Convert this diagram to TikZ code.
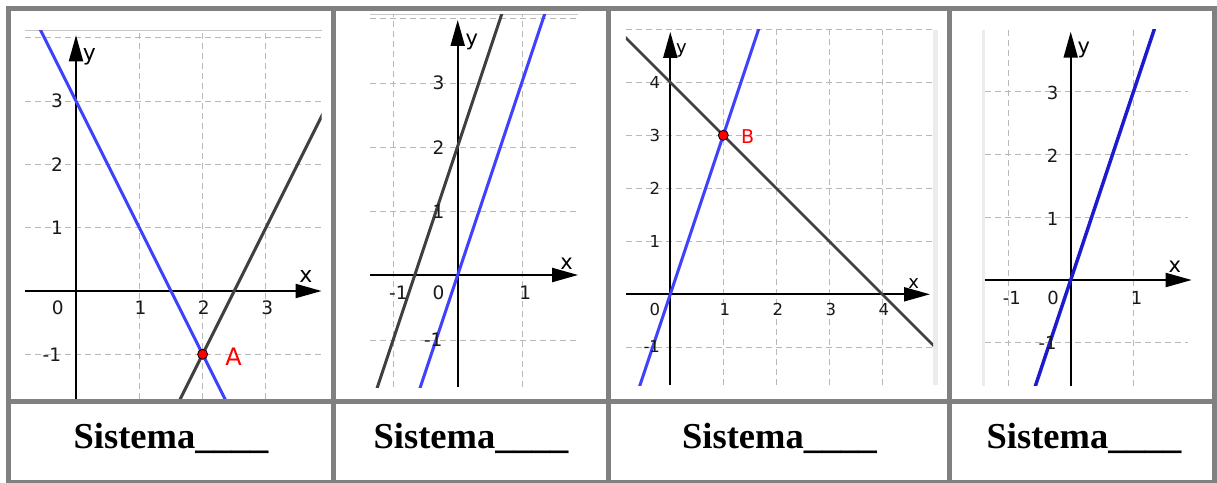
\documentclass[tikz,border=0pt]{standalone}
\usepackage{fontspec}
\setmainfont{Liberation Serif}
\setsansfont{DejaVu Sans}
\usepackage{tikz}
\usetikzlibrary{arrows.meta}

\definecolor{bordegris}{gray}{0.5}
\definecolor{rejillagris}{gray}{0.72}
\definecolor{rectaazul}{RGB}{64,64,255}
\definecolor{rectaazuloscuro}{RGB}{28,28,204}
\definecolor{rectagris}{RGB}{64,64,64}

\begin{document}
\begin{tikzpicture}[x=1pt,y=1pt,
    borde/.style={draw=bordegris,line width=5pt},
    rejilla/.style={rejillagris,line width=1pt,dash pattern=on 6pt off 4pt},
    eje/.style={line width=2pt,-{Triangle[length=26pt,width=14pt]}},
    recta/.style={line width=3pt},
    marca/.style={font=\fontsize{#1}{#1}\sffamily,text=black!90,inner sep=0pt},
    rotulo/.style={font=\fontsize{#1}{#1}\sffamily,inner sep=0pt},
    punto/.style={circle,fill=red,draw=black,line width=0.8pt,inner sep=0pt,minimum size=10pt},
    sistema/.style={font=\fontsize{36.5}{40}\selectfont\bfseries,anchor=base}]
    \useasboundingbox (0,0) rectangle (1217,482);
    \fill[white] (0,0) rectangle (1217,482);

    % Sistema 1: rectas que se cortan en A.
    \begin{scope}[shift={(76pt,191pt)},x=63.3pt,y=63.3pt]
        \draw[gray!45,line width=1.2pt] (-0.8,4.11) -- (3.88,4.11);
        \foreach \x in {1,2,3}{
            \draw[rejilla] (\x,-1.7) -- (\x,4.11);
        }
        \foreach \y in {-1,1,2,3,4}{
            \draw[rejilla] (-0.8,\y) -- (3.88,\y);
        }
        \draw[eje] (0,-1.7) -- (0,4.04);
        \draw[eje] (-0.8,0) -- (3.88,0);
        \begin{scope}
            \clip (-0.8,-1.7) rectangle (3.88,4.11);
            \draw[recta,rectaazul] (-0.6,4.2) -- (2.4,-1.8);
            \draw[recta,rectagris] (1.6,-1.8) -- (4,3);
        \end{scope}
        \node[marca=18.5] (p1x0) at (-0.29,-0.27) {0};
        \foreach \x in {1,2,3}{
            \node[marca=18.5] (p1x\x) at (\x+0.02,-0.27) {\x};
        }
        \foreach \y in {1,2,3}{
            \node[marca=18.5] (p1y\y) at (-0.3,\y) {\y};
        }
        \node[marca=18.5] (p1ym1) at (-0.38,-1) {-1};
        \node[rotulo=22] (p1ejex) at (3.63,0.23) {x};
        \node[rotulo=22] (p1ejey) at (0.21,3.70) {y};
        \node[punto] (A) at (2,-1) {};
        \node[rotulo=24,text=red] (etiqA) at (2.49,-1.04) {A};
    \end{scope}

    % Sistema 2: rectas paralelas.
    \begin{scope}[shift={(457.7pt,207pt)},x=64.4pt,y=64.4pt]
        \draw[gray!45,line width=1.2pt] (-1.36,4.05) -- (1.87,4.05);
        \foreach \x in {-1,1}{
            \draw[rejilla] (\x,-1.74) -- (\x,4.05);
        }
        \foreach \y in {-1,1,2,3,4}{
            \draw[rejilla] (-1.36,\y-0.02) -- (1.87,\y-0.02);
        }
        \draw[eje] (0,-1.74) -- (0,3.96);
        \draw[eje] (-1.36,0) -- (1.87,0);
        \begin{scope}
            \clip (-1.36,-1.74) rectangle (1.87,4.05);
            \draw[recta,rectagris] (-1.3,-1.9) -- (0.75,4.25);
            \draw[recta,rectaazul] (-0.65,-1.95) -- (1.45,4.35);
        \end{scope}
        \node[marca=18.5] (p2xm1) at (-0.92,-0.28) {-1};
        \node[marca=18.5] (p2x0) at (-0.3,-0.28) {0};
        \node[marca=18.5] (p2x1) at (1.05,-0.28) {1};
        \foreach \y in {1,2,3}{
            \node[marca=18.5] (p2y\y) at (-0.3,\y-0.02) {\y};
        }
        \node[marca=18.5] (p2ym1) at (-0.38,-1.01) {-1};
        \node[rotulo=21] (p2ejex) at (1.69,0.18) {x};
        \node[rotulo=21] (p2ejey) at (0.22,3.62) {y};
    \end{scope}

    % Sistema 3: rectas que se cortan en B.
    \begin{scope}[shift={(670.3pt,187.7pt)},x=53pt,y=53pt]
        \fill[gray!15] (4.96,-1.72) rectangle (5.05,4.99);
        \foreach \x in {1,2,3,4}{
            \draw[rejilla] (\x,-1.72) -- (\x,4.99);
        }
        \foreach \y in {-1,1,2,3,4,5}{
            \draw[rejilla] (-0.84,\y) -- (4.96,\y);
        }
        \draw[eje] (0,-1.72) -- (0,4.95);
        \draw[eje] (-0.84,0) -- (4.9,0);
        \begin{scope}
            \clip (-0.84,-1.72) rectangle (4.96,4.99);
            \draw[recta,rectagris,line width=2.5pt] (-0.9,4.9) -- (5,-1);
            \draw[recta,rectaazul] (-0.6,-1.8) -- (1.7,5.1);
        \end{scope}
        \node[marca=16.5] (p3x0) at (-0.29,-0.28) {0};
        \foreach \x in {1,2,3,4}{
            \node[marca=16.5] (p3x\x) at (\x+0.03,-0.28) {\x};
        }
        \foreach \y in {1,2,3,4}{
            \node[marca=16.5] (p3y\y) at (-0.29,\y) {\y};
        }
        \node[marca=16.5] (p3ym1) at (-0.35,-0.99) {-1};
        \node[rotulo=18] (p3ejex) at (4.59,0.21) {x};
        \node[rotulo=18] (p3ejey) at (0.21,4.61) {y};
        \node[punto] (B) at (1,3) {};
        \node[rotulo=19,text=red] (etiqB) at (1.46,2.97) {B};
    \end{scope}

    % Sistema 4: una sola recta.
    \begin{scope}[shift={(1070.7pt,202pt)},x=62.7pt,y=62.7pt]
        \draw[gray!15,line width=3pt] (-1.39,-1.69) -- (-1.39,3.99);
        \foreach \x in {-1,1}{
            \draw[rejilla] (\x,-1.69) -- (\x,3.99);
        }
        \foreach \y in {-1,1,2,3}{
            \draw[rejilla] (-1.37,\y) -- (1.87,\y);
        }
        \draw[eje] (0,-1.69) -- (0,3.96);
        \draw[eje] (-1.37,0) -- (1.93,0);
        \begin{scope}
            \clip (-1.37,-1.69) rectangle (1.87,3.99);
            \draw[recta,rectaazuloscuro,line width=3.5pt] (-0.6,-1.8) -- (1.4,4.2);
        \end{scope}
        \node[marca=18] (p4xm1) at (-0.94,-0.29) {-1};
        \node[marca=18] (p4x0) at (-0.28,-0.29) {0};
        \node[marca=18] (p4x1) at (1.05,-0.29) {1};
        \foreach \y in {1,2,3}{
            \node[marca=18] (p4y\y) at (-0.29,\y-0.02) {\y};
        }
        \node[marca=18] (p4ym1) at (-0.37,-1.01) {-1};
        \node[rotulo=21] (p4ejex) at (1.66,0.21) {x};
        \node[rotulo=21] (p4ejey) at (0.21,3.67) {y};
    \end{scope}

    % Textos de la fila inferior.
    \node[sistema] (sis1) at (171,34) {Sistema\_\_\_\_};
    \node[sistema] (sis2) at (471,34) {Sistema\_\_\_\_};
    \node[sistema] (sis3) at (779.5,34) {Sistema\_\_\_\_};
    \node[sistema] (sis4) at (1084,34) {Sistema\_\_\_\_};

    % Bordes de la tabla.
    \draw[borde] (8.5,-0.5) rectangle (1214.5,473.5);
    \draw[borde] (8.5,81) -- (1214.5,81);
    \foreach \x in {333,608.5,949.5}{
        \draw[borde] (\x,-0.5) -- (\x,473.5);
    }
\end{tikzpicture}
\end{document}
